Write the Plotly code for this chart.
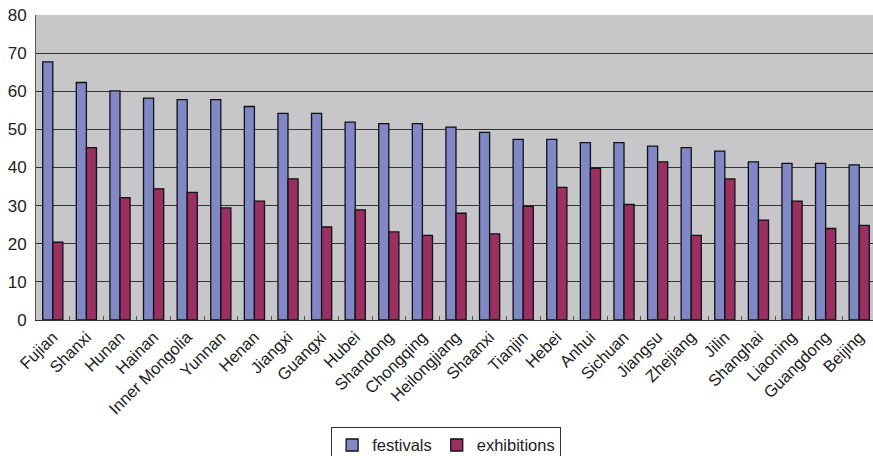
import plotly.graph_objects as go

provinces = [
    "Fujian", "Shanxi", "Hunan", "Hainan", "Inner Mongolia", "Yunnan", "Henan",
    "Jiangxi", "Guangxi", "Hubei", "Shandong", "Chongqing", "Heilongjiang",
    "Shaanxi", "Tianjin", "Hebei", "Anhui", "Sichuan", "Jiangsu", "Zhejiang",
    "Jilin", "Shanghai", "Liaoning", "Guangdong", "Beijing",
]
festivals = [
    67.7, 62.3, 60.1, 58.2, 57.8, 57.8, 56.0, 54.2, 54.2, 51.9, 51.5, 51.5,
    50.6, 49.2, 47.4, 47.4, 46.5, 46.5, 45.6, 45.2, 44.3, 41.5, 41.1, 41.1, 40.7,
]
exhibitions = [
    20.4, 45.2, 32.1, 34.4, 33.5, 29.4, 31.2, 37.0, 24.4, 28.9, 23.1, 22.2,
    28.0, 22.6, 29.8, 34.8, 39.8, 30.3, 41.5, 22.2, 37.0, 26.2, 31.2, 24.0, 24.8,
]
y_ticks = [0, 10, 20, 30, 40, 50, 60, 70, 80]

outline = dict(color="#111111", width=1.3)

fig = go.Figure()
fig.add_trace(go.Bar(
    name="festivals", x=provinces, y=festivals,
    marker=dict(color="#8088C6", line=outline),
))
fig.add_trace(go.Bar(
    name="exhibitions", x=provinces, y=exhibitions,
    marker=dict(color="#9A2F62", line=outline),
))

fig.update_layout(
    width=873, height=456,
    margin=dict(l=36, r=0, t=15, b=136, autoexpand=False),
    paper_bgcolor="white",
    plot_bgcolor="#C7C7C9",
    barmode="group",
    bargap=0.40,
    bargroupgap=0,
    font=dict(family="Liberation Sans, Arial, sans-serif", color="#222222", size=16),
    showlegend=True,
    legend=dict(
        orientation="h",
        x=0.49, xanchor="center",
        y=-0.35, yanchor="top",
        bgcolor="white",
        bordercolor="#333333", borderwidth=1,
        font=dict(size=16.5),
        itemwidth=30,
        tracegroupgap=0,
        traceorder="normal",
    ),
)

fig.update_xaxes(
    type="category",
    range=[-0.5, 24.41],
    tickangle=-45,
    tickfont=dict(size=16.5),
    automargin=False,
    showgrid=False,
    showline=True, linecolor="#333333", linewidth=1,
    ticks="inside", tickson="boundaries", ticklen=4, tickcolor="#555555",
)
fig.update_yaxes(
    range=[0, 80],
    tickvals=y_ticks,
    tickfont=dict(size=17),
    automargin=False,
    showgrid=True, gridcolor="#333333", gridwidth=1,
    showline=True, linecolor="#555555", linewidth=1,
    ticks="", ticklabelstandoff=5,
    zeroline=False,
)

fig.write_html("out.html")
